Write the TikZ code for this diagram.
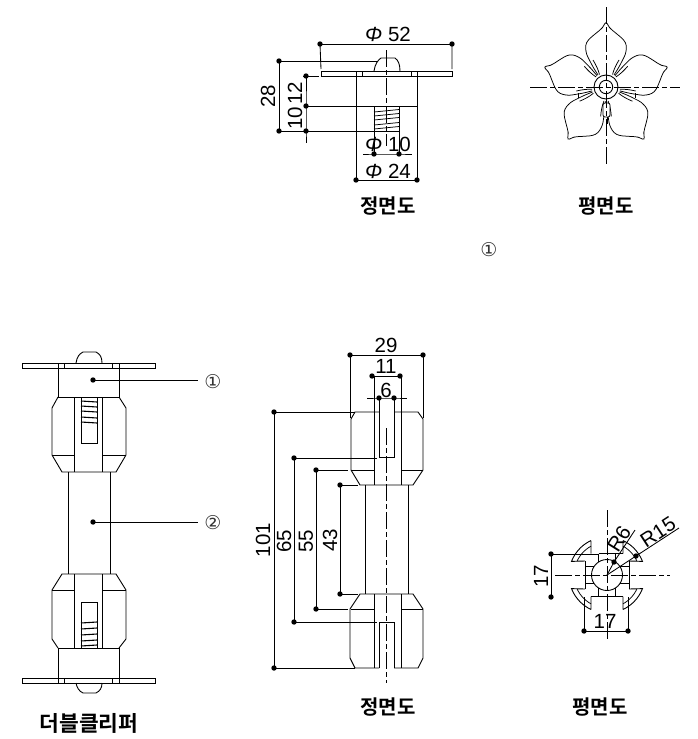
\documentclass[tikz,border=0pt]{standalone}
\usepackage{fontspec}
\setmainfont{Liberation Sans}
\newfontfamily\krfont{Noto Sans CJK KR}[BoldFont={Noto Sans CJK KR Bold}]
\newfontfamily\symfont{DejaVu Sans}
\newcommand{\phisym}{{\itshape Φ}}
\tikzset{
  part/.style={draw=black,line width=0.9pt,line join=miter},
  thin part/.style={draw=black,line width=0.75pt},
  center line/.style={draw=black,line width=0.85pt,dash pattern=on 17pt off 3pt on 5pt off 3pt},
  dimline/.style={draw=black,line width=0.85pt},
  dimdot/.style={circle,fill=black,inner sep=0pt,minimum size=5.4pt},
  dimtext/.style={font=\fontsize{20.5}{22}\selectfont,inner sep=0pt,text=black},
  title/.style={font=\krfont\bfseries\fontsize{20}{22}\selectfont,inner sep=0pt,text=black},
  bigtitle/.style={font=\krfont\bfseries\fontsize{21.5}{23}\selectfont,inner sep=0pt,text=black},
  callout/.style={font=\symfont\fontsize{19}{20}\selectfont,inner sep=0pt,text=black!80},
  spring/.style={draw=black,line width=1.1pt}
}
\begin{document}
\begin{tikzpicture}[x=1pt,y=-1pt]
\useasboundingbox (0,0) rectangle (698,739);
\fill[white] (0,0) rectangle (698,739);

% ---------- top front view ----------
\draw[part] (321,71) rectangle (452,76);
\draw[part] (374,71) .. controls (375,64) and (378,60) .. (381,58) -- (395,58) .. controls (398,60) and (400,64) .. (400,71);
\draw[part] (356,76) rectangle (417,106);
\draw[part] (356,71)--(356,76) (362,71)--(362,76) (411,71)--(411,76) (417,71)--(417,76);
\draw[part] (374,106) rectangle (399,131);
\foreach \yy in {111,115,119,124,128}
  \draw[thin part] (374,\yy+1)--(399,\yy-1.5);
\draw[center line] (386,50)--(386,146);
\node[dimdot] (a52l) at (320,44) {};
\node[dimdot] (a52r) at (452,44) {};
\draw[dimline] (a52l.center)--(a52r.center);
\draw[dimline] (a52l.center)--(321,69) (a52r.center)--(452,69);
\node[dimtext] (t52) at (388,34) {\phisym\ 52};
\node[dimdot] (a28t) at (279,61) {};
\node[dimdot] (a28b) at (279,131) {};
\draw[dimline] (a28t.center)--(a28b.center);
\draw[dimline] (a28t.center)--(377,61);
\node[dimdot] (a12t) at (306,76) {};
\node[dimdot] (a12m) at (306,106) {};
\node[dimdot] (a12b) at (306,131) {};
\draw[dimline] (a12t.center)--(a12m.center)--(a12b.center)--(306,143);
\draw[dimline] (303,76)--(319,76);
\draw[dimline] (a12m.center)--(356,106);
\draw[dimline] (a28b.center)--(374,131);
\node[dimtext,rotate=90] (t28) at (268,96) {28};
\node[dimtext,rotate=90] (t12) at (295,93) {12};
\node[dimtext,rotate=90] (t10) at (295,118) {10};
\node[dimdot] (a10l) at (374,154) {};
\node[dimdot] (a10r) at (399,154) {};
\draw[dimline] (363,154)--(a10l.center)--(a10r.center)--(412,154);
\draw[dimline] (a10l.center)--(374,131) (a10r.center)--(399,131);
\node[dimtext] (tp10) at (388,144) {\phisym\ 10};
\node[dimdot] (a24l) at (356,180) {};
\node[dimdot] (a24r) at (417,180) {};
\draw[dimline] (a24l.center)--(a24r.center);
\draw[dimline] (a24l.center)--(356,106) (a24r.center)--(417,106);
\node[dimtext] (tp24) at (388,171) {\phisym\ 24};
\node[title] (tfront1) at (388,206) {정면도};

% ---------- flower plan ----------
\foreach \ang in {0,72,144,216,288}{
\begin{scope}[shift={(606,87)},rotate=\ang]
  \draw[thin part,rounded corners=3pt] (-8,-12) -- (-13,-20) -- (-19.7,-33) -- (-20.7,-41.7) -- (-18,-47) -- (-11,-53) -- (-4.7,-58) -- (-2.3,-61) -- (0,-66) -- (2.3,-61) -- (4.7,-58) -- (11,-53) -- (18,-47) -- (20.7,-41.7) -- (19.7,-33) -- (13,-20) -- (8,-12);
  \draw[thin part] (-13,-27) .. controls (-10,-22) and (-8,-18) .. (-6.5,-12.5);
  \draw[thin part] (13,-27) .. controls (10,-22) and (8,-18) .. (6.5,-12.5);
\end{scope}}
\draw[thin part] (635,93.3)--(635,98.3) (578,93.3)--(578,98.3);
\fill[white] (603.2,103) rectangle (609.8,117);
\draw[thin part,rounded corners=2pt] (603,117)--(603,103)--(610,103)--(610,117)--cycle;
\draw[thin part] (607.5,117)--(607.5,124);
\draw[part,fill=white] (606,87) circle[radius=12];
\draw[part] (606,87) circle[radius=6.7];
\draw[center line] (530,87)--(680,87);
\draw[center line] (606,7)--(606,165);
\node[title] (tplan1) at (606,206) {평면도};

\node[callout] (c1top) at (489,250) {①};

% ---------- assembled clip ----------
\draw[part] (22,363) rectangle (155,368);
\draw[part] (58,363)--(58,368) (64,363)--(64,368) (112,363)--(112,368) (119,363)--(119,368);
\draw[part] (76,363) .. controls (77,357) and (79,354) .. (83,352) -- (96,352) .. controls (100,354) and (102,357) .. (102,363);
\draw[part] (58,368) rectangle (119,397);
\draw[part] (58,397)--(52,408)--(52,455)--(62,472)--(116,472)--(126,455)--(126,408)--(119,397);
\draw[part] (52,455)--(74,455) (102,455)--(126,455);
\draw[part] (74,397)--(74,472) (102,397)--(102,472);
\draw[part] (81,397) rectangle (97,443);
\foreach \yy in {401,406,411,417,422}
  \draw[spring] (81,\yy)--(97,\yy+1);
\draw[part] (68,472)--(68,574) (110,472)--(110,574);
\draw[part] (119,648)--(126,639)--(126,590)--(116,574)--(62,574)--(52,590)--(52,639)--(58,648);
\draw[part] (52,590)--(74,590) (102,590)--(126,590);
\draw[part] (74,574)--(74,648) (102,574)--(102,648);
\draw[part] (81,602) rectangle (97,648);
\foreach \yy in {622,628,634,640,645}
  \draw[spring] (81,\yy+1)--(97,\yy);
\draw[part] (58,648) rectangle (119,678);
\draw[part] (22,678) rectangle (155,683);
\draw[part] (58,678)--(58,683) (64,678)--(64,683) (112,678)--(112,683) (119,678)--(119,683);
\draw[part] (76,683) .. controls (77,688) and (79,691) .. (83,693) -- (96,693) .. controls (100,691) and (102,688) .. (102,683);
\node[dimdot] (p1) at (93,380) {};
\node[callout] (c1) at (213,382) {①};
\coordinate (p1end) at (198,380);
\draw[dimline] (p1.center)--(p1end);
\node[dimdot] (p2) at (93,522) {};
\node[callout] (c2) at (213,523) {②};
\coordinate (p2end) at (198,522);
\draw[dimline] (p2.center)--(p2end);
\node[bigtitle] (tclip) at (89,723) {더블클리퍼};

% ---------- middle front view ----------
\draw[part] (379,412)--(355,412)--(351,419)--(351,470)--(360,485)--(413,485)--(423,470)--(423,419)--(418,412)--(394,412);
\draw[part] (351,470)--(374,470) (401,470)--(423,470);
\draw[part] (374,376)--(374,485) (401,376)--(401,485);
\draw[part] (379,398)--(379,457)--(394,457)--(394,398);
\draw[part] (365,485)--(365,594) (408,485)--(408,594);
\draw[part] (379,668)--(355,668)--(350,658)--(350,609)--(360,594)--(413,594)--(423,609)--(423,658)--(418,668)--(394,668);
\draw[part] (351,609)--(374,609) (401,609)--(423,609);
\draw[part] (374,594)--(374,668) (401,594)--(401,668);
\draw[part] (379,668)--(379,622)--(394,622)--(394,668);
\draw[center line] (386,428)--(386,683);
\node[dimdot] (m29l) at (350,355) {};
\node[dimdot] (m29r) at (423,355) {};
\draw[dimline] (m29l.center)--(m29r.center);
\draw[dimline] (m29l.center)--(350,418) (m29r.center)--(423,418);
\node[dimtext] (t29) at (386,345) {29};
\node[dimdot] (m11l) at (372,376) {};
\node[dimdot] (m11r) at (400,376) {};
\draw[dimline] (m11l.center)--(m11r.center);
\node[dimtext] (t11) at (386,366) {11};
\node[dimdot] (m6l) at (379,398) {};
\node[dimdot] (m6r) at (394,398) {};
\draw[dimline] (367,398)--(m6l.center)--(m6r.center)--(407,398);
\node[dimtext] (t6) at (386,390) {6};
\node[dimdot] (m101t) at (274,412) {};
\node[dimdot] (m101b) at (274,668) {};
\draw[dimline] (m101t.center)--(m101b.center);
\draw[dimline] (m101t.center)--(355,412);
\draw[dimline] (m101b.center)--(355,668);
\node[dimdot] (m65t) at (294,458) {};
\node[dimdot] (m65b) at (294,622) {};
\draw[dimline] (m65t.center)--(m65b.center);
\draw[dimline] (m65t.center)--(377,458) (m65b.center)--(377,622);
\node[dimdot] (m55t) at (316,470) {};
\node[dimdot] (m55b) at (316,609) {};
\draw[dimline] (m55t.center)--(m55b.center);
\draw[dimline] (m55t.center)--(348,470) (m55b.center)--(348,609);
\node[dimdot] (m43t) at (340,485) {};
\node[dimdot] (m43b) at (340,594) {};
\draw[dimline] (m43t.center)--(m43b.center);
\draw[dimline] (m43t.center)--(358,485) (m43b.center)--(358,594);
\node[dimtext,rotate=90] (t101) at (263,540) {101};
\node[dimtext,rotate=90] (t65) at (284,541) {65};
\node[dimtext,rotate=90] (t55) at (306,541) {55};
\node[dimtext,rotate=90] (t43) at (330,540) {43};
\node[title] (tfront2) at (388,707) {정면도};

% ---------- bottom plan ----------
\begin{scope}[shift={(607,575)}]
  \draw[part] (0,0) circle[radius=15.5];
  \foreach \sx/\sy in {1/1,-1/1,1/-1,-1/-1}{
    \draw[part] (\sx*16,\sy*21.5)--(\sx*16,\sy*34.5)
       plot[smooth,domain=65:21,samples=8] ({\sx*38*cos(\x)},{\sy*38*sin(\x)}) -- (\sx*22,\sy*14);
    \draw[thin part] plot[smooth,domain=61:25,samples=8] ({\sx*33*cos(\x)},{\sy*33*sin(\x)});
    \draw[part] (\sx*22,\sy*14)--(\sx*22,0);
    \draw[part] (\sx*22,\sy*8.3)--(\sx*13,\sy*8.3);
    \draw[part] (\sx*8.3,\sy*21.5)--(\sx*8.3,\sy*13);
  }
  \draw[part] (-16,21.5)--(16,21.5) (-8,-21.5)--(16,-21.5);
\end{scope}
\draw[center line] (555,575)--(670,575);
\draw[center line] (607,510)--(607,640);
\node[dimdot] (b17t) at (551,554) {};
\node[dimdot] (b17b) at (551,597) {};
\draw[dimline] (b17t.center)--(b17b.center);
\draw[dimline] (b17t.center)--(599,554);
\node[dimdot] (b17l) at (584,631) {};
\node[dimdot] (b17r) at (628,631) {};
\draw[dimline] (b17l.center)--(b17r.center);
\draw[dimline] (b17l.center)--(584,597) (b17r.center)--(628,597);
\node[dimdot] (r6) at (614,562) {};
\node[dimdot] (r15) at (636,556) {};
\coordinate (pc) at (607,575);
\coordinate (r6end) at (635,530);
\coordinate (r15end) at (679,528);
\draw[dimline] (pc)--(r6.center)--(r6end);
\draw[dimline] (pc)--(r15.center)--(r15end);
\node[dimtext,rotate=90] (tb17a) at (541,576) {17};
\node[dimtext] (tb17b) at (605,621) {17};
\node[dimtext,rotate=58] (tr6) at (619,539) {R6};
\node[dimtext,rotate=33] (tr15) at (658,532) {R15};
\node[title] (tplan2) at (600,707) {평면도};
\end{tikzpicture}
\end{document}
